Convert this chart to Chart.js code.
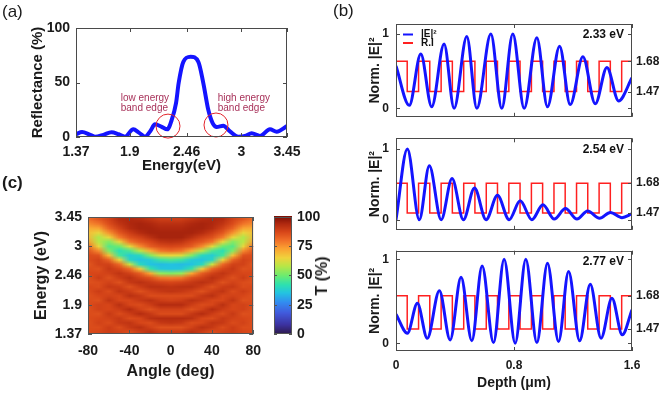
<!DOCTYPE html>
<html>
<head>
<meta charset="utf-8">
<script src="https://cdn.jsdelivr.net/npm/chart.js@4.4.1/dist/chart.umd.min.js"></script>
<style>
  body { margin: 0; background: #fff; }
  #fig { position: relative; width: 660px; height: 393px; overflow: hidden;
         font-family: "Liberation Sans", Arial, Helvetica, sans-serif; color: #1a1a1a; }
  canvas { position: absolute; }
  .lbl { position: absolute; font-size: 17px; line-height: 1; }
  #tlabel { position: absolute; left: 322px; top: 276px; font-size: 16px; font-weight: bold;
            white-space: nowrap; transform: translate(-50%, -50%) rotate(-90deg); }
</style>
</head>
<body>
<div id="fig">
  <canvas id="chartA" width="330" height="175" style="left:0;top:0"></canvas>
  <canvas id="chartC" width="270" height="218" style="left:0;top:175px"></canvas>
  <canvas id="chartBar" width="65" height="218" style="left:265px;top:175px"></canvas>
  <canvas id="chartB1" width="330" height="131" style="left:330px;top:0"></canvas>
  <canvas id="chartB2" width="330" height="123" style="left:330px;top:121px"></canvas>
  <canvas id="chartB3" width="330" height="159" style="left:330px;top:234px"></canvas>
  <div class="lbl" style="left:2px;top:3px">(a)</div>
  <div class="lbl" style="left:333px;top:2px">(b)</div>
  <div class="lbl" style="left:2px;top:174px;font-weight:bold">(c)</div>
  <div id="tlabel">T (%)</div>
</div>
<script>
// ---- (a) reflectance ----
const energyA = [1.37, 1.43, 1.5, 1.557, 1.64, 1.72, 1.79, 1.853, 1.935, 1.99, 2.05, 2.1, 2.149, 2.21, 2.27,
  2.313, 2.356, 2.382, 2.428, 2.5, 2.576, 2.625, 2.674, 2.717, 2.757, 2.822, 2.888, 2.97, 3.036, 3.102,
  3.184, 3.282, 3.348, 3.45];
const reflA = [2.5, 4.5, 2.5, 0.3, 2, 4.3, 2.5, 0.3, 7, 4, 0.3, 5, 11.6, 9.5, 7,
  15.6, 31, 49.5, 69, 73.7, 69, 49.5, 25, 12.8, 9.2, 10.4, 5.2, 0.3, 0.9, 3.4,
  0.9, 7, 4.9, 10];
const energyTicksA = [1.37, 1.9, 2.46, 3, 3.45];
const reflTicksA = [0, 50, 100];
const edgeCircles = [[2.277, 10], [2.75, 11]];
const edgeNotes = [
  { e: 1.811, r: [36, 26.6], text: ['low energy', 'band edge'] },
  { e: 2.767, r: [36, 26.6], text: ['high energy', 'band edge'] }
];

// ---- (b) field profiles ----
const depthTicks = [0, 0.8, 1.6];
const layerStart = [0, 0.076, 0.153, 0.229, 0.306, 0.382, 0.459, 0.535, 0.612, 0.688, 0.765,
  0.841, 0.918, 0.994, 1.071, 1.147, 1.224, 1.3, 1.377, 1.453, 1.53];
const layerIndex = [1.68, 1.47, 1.68, 1.47, 1.68, 1.47, 1.68, 1.47, 1.68, 1.47, 1.68,
  1.47, 1.68, 1.47, 1.68, 1.47, 1.68, 1.47, 1.68, 1.47, 1.68];
const depthEnd = 1.6;

const depth233 = [0, 0.09, 0.168, 0.242, 0.326, 0.394, 0.48, 0.548, 0.643, 0.717, 0.792, 0.869,
  0.955, 1.027, 1.109, 1.181, 1.267, 1.351, 1.43, 1.509, 1.6];
const field233 = [0.57, 0.04, 0.73, 0.02, 0.865, 0, 0.967, 0, 1.0, 0, 1.0, 0,
  0.95, 0.02, 0.837, 0.05, 0.694, 0.06, 0.55, 0.1, 0.41];

const depth254 = [0, 0.077, 0.158, 0.226, 0.306, 0.38, 0.457, 0.532, 0.611, 0.688, 0.767, 0.842,
  0.921, 0.996, 1.073, 1.149, 1.227, 1.299, 1.38, 1.453, 1.532, 1.6];
const field254 = [0, 1.0, 0, 0.763, 0, 0.582, 0, 0.448, 0, 0.345, 0, 0.267,
  0, 0.211, 0.01, 0.159, 0.01, 0.124, 0.02, 0.103, 0.03, 0.085];

const depth277 = [0, 0.077, 0.145, 0.212, 0.294, 0.367, 0.441, 0.514, 0.584, 0.661, 0.733, 0.808,
  0.88, 0.955, 1.027, 1.102, 1.17, 1.245, 1.317, 1.39, 1.464, 1.534, 1.6];
const field277 = [0.345, 0.12, 0.476, 0.06, 0.626, 0.04, 0.786, 0.03, 0.92, 0.008, 1.0, 0,
  1.0, 0.008, 0.952, 0.02, 0.853, 0.03, 0.702, 0.06, 0.536, 0.1, 0.4];

// ---- (c) transmission map, rows from 3.45 eV (top) to 1.37 eV (bottom) ----
const angleTicks = [-80, -40, 0, 40, 80];
const energyTicksC = ['1.37', '1.9', '2.46', '3', '3.45'];
const heatAngles = [-80, -70, -60, -50, -40, -30, -20, -10, 0, 10, 20, 30, 40, 50, 60, 70, 80];
const heatT = [
  [80, 84, 88, 93, 94, 93, 91, 89, 89, 89, 91, 93, 94, 93, 88, 84, 80],
  [76, 79, 86, 91, 94, 95, 94, 92, 92, 92, 94, 95, 94, 91, 86, 79, 76],
  [71, 72, 82, 88, 93, 95, 95, 94, 94, 94, 95, 95, 93, 88, 82, 72, 71],
  [68, 64, 75, 84, 89, 93, 95, 95, 95, 95, 95, 93, 89, 84, 75, 64, 68],
  [69, 57, 64, 78, 85, 88, 92, 95, 95, 95, 92, 88, 85, 78, 64, 57, 69],
  [73, 58, 52, 64, 79, 84, 87, 91, 92, 91, 87, 84, 79, 64, 52, 58, 73],
  [80, 64, 47, 50, 63, 76, 83, 86, 87, 86, 83, 76, 63, 50, 47, 64, 80],
  [84, 76, 52, 41, 46, 58, 71, 79, 81, 79, 71, 58, 46, 41, 52, 76, 84],
  [86, 85, 68, 45, 37, 40, 52, 62, 64, 62, 52, 40, 37, 45, 68, 85, 86],
  [86, 88, 82, 64, 39, 35, 37, 44, 46, 44, 37, 35, 39, 64, 82, 88, 86],
  [84, 88, 88, 81, 60, 40, 35, 34, 35, 34, 35, 40, 60, 81, 88, 88, 84],
  [86, 85, 90, 87, 81, 66, 43, 36, 35, 36, 43, 66, 81, 87, 90, 85, 86],
  [87, 87, 88, 91, 88, 83, 72, 54, 52, 54, 72, 83, 88, 91, 88, 87, 87],
  [85, 89, 85, 89, 92, 88, 85, 79, 78, 79, 85, 88, 92, 89, 85, 89, 85],
  [85, 86, 88, 85, 90, 92, 90, 88, 87, 88, 90, 92, 90, 85, 88, 86, 85],
  [87, 86, 90, 89, 85, 89, 92, 92, 91, 92, 92, 89, 85, 89, 90, 86, 87],
  [86, 89, 86, 91, 89, 85, 88, 90, 91, 90, 88, 85, 89, 91, 86, 89, 86],
  [85, 87, 88, 87, 92, 90, 86, 86, 86, 86, 86, 90, 92, 87, 88, 87, 85],
  [86, 85, 91, 87, 87, 90, 92, 89, 88, 89, 92, 90, 87, 87, 91, 85, 86],
  [86, 88, 87, 92, 87, 86, 89, 93, 93, 93, 89, 86, 87, 92, 87, 88, 86],
  [85, 88, 87, 89, 93, 88, 85, 88, 88, 88, 85, 88, 93, 89, 87, 88, 85],
  [86, 85, 90, 86, 89, 93, 90, 86, 86, 86, 90, 93, 89, 86, 90, 85, 86],
  [86, 87, 88, 90, 86, 87, 92, 93, 93, 93, 92, 87, 86, 90, 88, 87, 86],
  [85, 88, 86, 90, 91, 87, 86, 90, 91, 90, 86, 87, 91, 90, 86, 88, 85],
  [86, 86, 89, 86, 90, 92, 88, 85, 85, 85, 88, 92, 90, 86, 89, 86, 86],
  [86, 87, 89, 88, 86, 89, 92, 89, 89, 89, 92, 89, 86, 88, 89, 87, 86]
];
const cbarTicks = [0, 25, 50, 75, 100];

// colour map (T % -> rgb)
const cmapStops = [
  [0, [45, 25, 75]], [8, [60, 50, 160]], [18, [65, 90, 220]], [27, [50, 140, 240]],
  [35, [35, 195, 225]], [42, [45, 225, 175]], [50, [110, 235, 110]], [58, [185, 230, 70]],
  [65, [240, 210, 60]], [73, [250, 160, 50]], [80, [240, 110, 40]], [87, [215, 70, 25]],
  [94, [175, 40, 15]], [100, [125, 15, 5]]
];
function cmap(v) {
  v = Math.max(0, Math.min(100, v));
  for (let i = 1; i < cmapStops.length; i++) {
    const [v1, c1] = cmapStops[i];
    const [v0, c0] = cmapStops[i - 1];
    if (v <= v1) {
      const f = (v - v0) / (v1 - v0);
      return c0.map((c, k) => Math.round(c + (c1[k] - c) * f));
    }
  }
  return cmapStops[cmapStops.length - 1][1];
}

const FONT = "'Liberation Sans', Arial, Helvetica, sans-serif";
Chart.defaults.font.family = FONT;
Chart.defaults.color = '#1a1a1a';
const BOLD = (size) => ({ size: size, weight: 'bold', family: FONT });

// box + inward ticks, MATLAB style
const framePlugin = {
  id: 'frame',
  afterDatasetsDraw(chart, args, opts) {
    const { ctx, chartArea: a, scales } = chart;
    const len = opts.len || 4;
    ctx.save();
    ctx.strokeStyle = opts.color || '#4a4a4a';
    ctx.lineWidth = 1;
    const seg = (x1, y1, x2, y2) => { ctx.beginPath(); ctx.moveTo(x1, y1); ctx.lineTo(x2, y2); ctx.stroke(); };
    (opts.x || []).forEach(v => {
      const p = Math.round(scales.x.getPixelForValue(v)) + 0.5;
      seg(p, a.bottom, p, a.bottom - len);
      seg(p, a.top, p, a.top + len);
    });
    (opts.y || []).forEach(v => {
      const p = Math.round(scales.y.getPixelForValue(v)) + 0.5;
      seg(a.left, p, a.left + len, p);
      if (opts.mirrorY) seg(a.right, p, a.right - len, p);
    });
    (opts.y2 || []).forEach(v => {
      const p = Math.round(scales.y2.getPixelForValue(v)) + 0.5;
      seg(a.right, p, a.right - len, p);
    });
    ctx.strokeRect(Math.round(a.left) + 0.5, Math.round(a.top) + 0.5,
      Math.round(a.right - a.left) - 1, Math.round(a.bottom - a.top) - 1);
    ctx.restore();
  }
};

function fixedTicks(values) {
  return (scale) => { scale.ticks = values.map(v => ({ value: v })); };
}

// ---------- (a) ----------
const notesPlugin = {
  id: 'notes',
  afterDatasetsDraw(chart) {
    const { ctx, scales: { x, y } } = chart;
    ctx.save();
    ctx.strokeStyle = '#e3242b';
    ctx.lineWidth = 1;
    edgeCircles.forEach(([e, r]) => {
      ctx.beginPath();
      ctx.arc(x.getPixelForValue(e), y.getPixelForValue(r), 12, 0, Math.PI * 2);
      ctx.stroke();
    });
    ctx.fillStyle = '#a8325a';
    ctx.font = '10px ' + FONT;
    ctx.textAlign = 'left';
    ctx.textBaseline = 'middle';
    edgeNotes.forEach(n => {
      n.text.forEach((t, i) => ctx.fillText(t, x.getPixelForValue(n.e), y.getPixelForValue(n.r[i])));
    });
    ctx.restore();
  }
};

new Chart(document.getElementById('chartA'), {
  type: 'line',
  data: {
    datasets: [{
      data: energyA.map((e, i) => ({ x: e, y: reflA[i] })),
      borderColor: '#1414ff',
      borderWidth: 4,
      pointRadius: 0,
      cubicInterpolationMode: 'monotone',
      borderCapStyle: 'round',
      borderJoinStyle: 'round'
    }]
  },
  options: {
    responsive: false, animation: false, events: [],
    layout: { padding: { top: 28, right: 43, left: 0, bottom: 0 } },
    plugins: {
      legend: { display: false }, tooltip: { enabled: false },
      frame: { x: energyTicksA, y: reflTicksA, mirrorY: true }
    },
    scales: {
      x: {
        type: 'linear', min: 1.37, max: 3.45,
        afterBuildTicks: fixedTicks(energyTicksA),
        afterFit: s => { s.height = 38; },
        grid: { display: false, drawTicks: false }, border: { display: false },
        ticks: { font: BOLD(14), padding: 7, maxRotation: 0, autoSkip: false,
                 callback: (v, i) => String(energyTicksA[i]) },
        title: { display: true, text: 'Energy(eV)', font: BOLD(15), padding: { top: 0, bottom: 0 } }
      },
      y: {
        min: 0, max: 100,
        afterBuildTicks: fixedTicks(reflTicksA),
        afterFit: s => { s.width = 76; },
        grid: { display: false, drawTicks: false }, border: { display: false },
        ticks: { font: BOLD(14), padding: 6, callback: v => String(v) },
        title: { display: true, text: 'Reflectance (%)', font: BOLD(15), padding: { top: 29, bottom: 0 } }
      }
    }
  },
  plugins: [notesPlugin, framePlugin]
});

// ---------- (b) ----------
const fieldPanels = [
  { id: 'chartB1', depth: depth233, field: field233, label: '2.33 eV', legend: true, showX: false,
    pad: { top: 24, bottom: 5 }, yr: [-0.114, 1.135], y2r: [1.295, 1.938] },
  { id: 'chartB2', depth: depth254, field: field254, label: '2.54 eV', legend: false, showX: false,
    pad: { top: 17.3, bottom: 5.7 }, yr: [-0.142, 1.151], y2r: [1.352, 1.995] },
  { id: 'chartB3', depth: depth277, field: field277, label: '2.77 eV', legend: false, showX: true,
    pad: { top: 16.7, bottom: 0 }, yr: [-0.092, 1.102], y2r: [1.331, 1.964] }
];

const fieldNotes = {
  id: 'fieldNotes',
  afterDatasetsDraw(chart, args, opts) {
    const { ctx, chartArea: a } = chart;
    ctx.save();
    ctx.fillStyle = '#111';
    ctx.font = 'bold 12px ' + FONT;
    ctx.textAlign = 'right';
    ctx.textBaseline = 'middle';
    ctx.fillText(opts.label, a.right - 8, a.top + 11);
    if (opts.legend) {
      const items = [['|E|²', '#1414ff', 10.5], ['R.I', '#ff2020', 19]];
      ctx.font = 'bold 10px ' + FONT;
      ctx.textAlign = 'left';
      items.forEach(([t, c, dy]) => {
        ctx.strokeStyle = c;
        ctx.lineWidth = 2;
        ctx.beginPath();
        ctx.moveTo(a.left + 7, a.top + dy);
        ctx.lineTo(a.left + 17, a.top + dy);
        ctx.stroke();
        ctx.fillText(t, a.left + 25, a.top + dy);
      });
    }
    ctx.restore();
  }
};

fieldPanels.forEach(p => {
  const riData = layerStart.map((x, i) => ({ x: x, y: layerIndex[i] }));
  riData.push({ x: depthEnd, y: layerIndex[layerIndex.length - 1] });
  new Chart(document.getElementById(p.id), {
    type: 'line',
    data: {
      datasets: [
        { data: p.depth.map((d, i) => ({ x: d, y: p.field[i] })), yAxisID: 'y',
          borderColor: '#1414ff', borderWidth: 3, pointRadius: 0, cubicInterpolationMode: 'monotone' },
        { data: riData, yAxisID: 'y2', stepped: true,
          borderColor: '#ff2020', borderWidth: 1.5, pointRadius: 0 }
      ]
    },
    options: {
      responsive: false, animation: false, events: [],
      layout: { padding: { top: p.pad.top, bottom: p.pad.bottom, left: 0, right: 0 } },
      plugins: {
        legend: { display: false }, tooltip: { enabled: false },
        frame: { x: depthTicks, y: [0, 1], mirrorY: true, y2: [1.47, 1.68] },
        fieldNotes: { label: p.label, legend: p.legend }
      },
      scales: {
        x: {
          type: 'linear', min: 0, max: depthEnd, display: p.showX,
          afterBuildTicks: fixedTicks(depthTicks),
          afterFit: s => { if (p.showX) s.height = 42; },
          grid: { display: false, drawTicks: false }, border: { display: false },
          ticks: { font: BOLD(12), padding: 7, maxRotation: 0, autoSkip: false, callback: v => String(v) },
          title: { display: true, text: 'Depth (μm)', font: BOLD(14), padding: { top: 0, bottom: 1 } }
        },
        y: {
          position: 'left', min: p.yr[0], max: p.yr[1],
          afterBuildTicks: fixedTicks([0, 1]),
          afterFit: s => { s.width = 66; },
          grid: { display: false, drawTicks: false }, border: { display: false },
          ticks: { font: BOLD(12), padding: 7, callback: v => String(v) },
          title: { display: true, text: 'Norm. |E|²', font: BOLD(14), padding: { top: 36.6, bottom: 0 } }
        },
        y2: {
          position: 'right', min: p.y2r[0], max: p.y2r[1],
          afterBuildTicks: fixedTicks([1.47, 1.68]),
          afterFit: s => { s.width = 28; },
          grid: { display: false, drawTicks: false }, border: { display: false },
          ticks: { font: BOLD(12), padding: 4, callback: v => v.toFixed(2) }
        }
      }
    },
    plugins: [fieldNotes, framePlugin]
  });
});

// ---------- (c) ----------
const heatPlugin = {
  id: 'heat',
  beforeDatasetsDraw(chart) {
    const { ctx, chartArea: a, scales: { x, y } } = chart;
    const cols = heatAngles.length, rows = heatT.length;
    const off = document.createElement('canvas');
    off.width = cols; off.height = rows;
    const octx = off.getContext('2d');
    const img = octx.createImageData(cols, rows);
    heatT.forEach((row, r) => row.forEach((t, c) => {
      const rgb = cmap(t), k = (r * cols + c) * 4;
      img.data[k] = rgb[0]; img.data[k + 1] = rgb[1]; img.data[k + 2] = rgb[2]; img.data[k + 3] = 255;
    }));
    octx.putImageData(img, 0, 0);
    const half = (heatAngles[1] - heatAngles[0]) / 2;
    const x0 = x.getPixelForValue(heatAngles[0] - half);
    const x1 = x.getPixelForValue(heatAngles[cols - 1] + half);
    const y0 = y.getPixelForValue(y.max), y1 = y.getPixelForValue(y.min);
    ctx.save();
    ctx.beginPath();
    ctx.rect(a.left, a.top, a.right - a.left, a.bottom - a.top);
    ctx.clip();
    ctx.imageSmoothingEnabled = true;
    ctx.drawImage(off, x0, y0, x1 - x0, y1 - y0);
    ctx.restore();
  }
};

new Chart(document.getElementById('chartC'), {
  type: 'scatter',
  data: { datasets: [] },
  options: {
    responsive: false, animation: false, events: [],
    layout: { padding: { top: 42, right: 13, left: 0, bottom: 0 } },
    plugins: {
      legend: { display: false }, tooltip: { enabled: false },
      frame: { x: angleTicks, y: [0, 1, 2, 3, 4], mirrorY: true, color: '#555' }
    },
    scales: {
      x: {
        type: 'linear', min: -80, max: 80,
        afterBuildTicks: fixedTicks(angleTicks),
        afterFit: s => { s.height = 59; },
        grid: { display: false, drawTicks: false }, border: { display: false },
        ticks: { font: BOLD(14), padding: 9, maxRotation: 0, autoSkip: false, callback: v => String(v) },
        title: { display: true, text: 'Angle (deg)', font: BOLD(16), padding: { top: 0, bottom: 11.7 } }
      },
      y: {
        type: 'linear', min: 0, max: energyTicksC.length - 1,
        afterBuildTicks: fixedTicks([0, 1, 2, 3, 4]),
        afterFit: s => { s.width = 88; },
        grid: { display: false, drawTicks: false }, border: { display: false },
        ticks: { font: BOLD(14), padding: 6, autoSkip: false, callback: (v, i) => energyTicksC[i] },
        title: { display: true, text: 'Energy (eV)', font: BOLD(16), padding: { top: 32.4, bottom: 0 } }
      }
    }
  },
  plugins: [heatPlugin, framePlugin]
});

// colour bar
const cbarPlugin = {
  id: 'cbar',
  beforeDatasetsDraw(chart) {
    const { ctx, chartArea: a, scales: { y } } = chart;
    ctx.save();
    for (let py = Math.floor(a.top); py < a.bottom; py++) {
      const rgb = cmap(y.getValueForPixel(py + 0.5));
      ctx.fillStyle = 'rgb(' + rgb.join(',') + ')';
      ctx.fillRect(a.left, py, a.right - a.left, 1);
    }
    ctx.restore();
  }
};

new Chart(document.getElementById('chartBar'), {
  type: 'scatter',
  data: { datasets: [] },
  options: {
    responsive: false, animation: false, events: [],
    layout: { padding: { top: 41.7, right: 0, left: 9, bottom: 59 } },
    plugins: {
      legend: { display: false }, tooltip: { enabled: false },
      frame: { y: cbarTicks, mirrorY: true, len: 3, color: '#555' }
    },
    scales: {
      x: { type: 'linear', min: 0, max: 1, display: false },
      y: {
        position: 'right', min: 0, max: 100,
        afterBuildTicks: fixedTicks(cbarTicks),
        afterFit: s => { s.width = 38; },
        grid: { display: false, drawTicks: false }, border: { display: false },
        ticks: { font: BOLD(14), padding: 5, callback: v => String(v) }
      }
    }
  },
  plugins: [cbarPlugin, framePlugin]
});
</script>
</body>
</html>
